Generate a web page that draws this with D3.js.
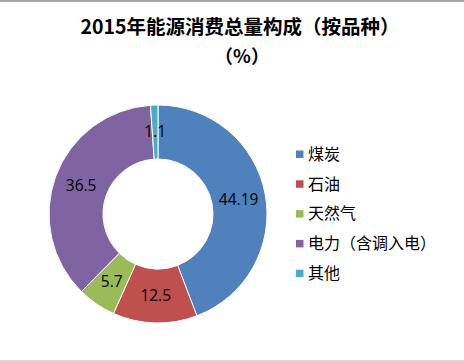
<!DOCTYPE html>
<html>
<head>
<meta charset="utf-8">
<script src="https://cdn.jsdelivr.net/npm/d3@7"></script>
<style>
  body { margin: 0; background: #fff; }
  svg { display: block; }
</style>
</head>
<body>
<script>
var categories = ["煤炭", "石油", "天然气", "电力（含调入电）", "其他"];
var values = [44.19, 12.5, 5.7, 36.5, 1.1];
var colors = ["#4F81BD", "#C0504D", "#9BBB59", "#8064A2", "#4BACC6"];

var largura = 464;
var altura = 361;

var svg = d3.select("body")
            .append("svg")
            .attr("width", largura)
            .attr("height", altura);

// frame lines
svg.append("line")
   .attr("x1", 0).attr("x2", largura)
   .attr("y1", 1).attr("y2", 1)
   .attr("stroke", "#a6a6a6")
   .attr("stroke-width", 2);
svg.append("line")
   .attr("x1", 0).attr("x2", largura)
   .attr("y1", 360.5).attr("y2", 360.5)
   .attr("stroke", "#d9d9d9");

// title (two lines)
svg.append("text")
   .attr("x", 240).attr("y", 34)
   .attr("text-anchor", "middle")
   .attr("font-family", "'Noto Sans CJK SC', sans-serif")
   .attr("font-weight", "bold")
   .attr("font-size", 19.5)
   .attr("fill", "#000")
   .text("2015年能源消费总量构成（按品种）");
svg.append("text")
   .attr("x", 242).attr("y", 63)
   .attr("text-anchor", "middle")
   .attr("font-family", "'Noto Sans CJK SC', sans-serif")
   .attr("font-weight", "bold")
   .attr("font-size", 18.5)
   .attr("fill", "#000")
   .text("（%）");

var cor = d3.scaleOrdinal().domain(categories).range(colors);

var pie = d3.pie().sort(null).value(function(d) { return d.v; });
var dados = categories.map(function(c, i) { return { nome: c, v: values[i] }; });

var rExt = 109, rInt = 55;
var arco = d3.arc().innerRadius(rInt).outerRadius(rExt);

var g = svg.append("g").attr("transform", "translate(158,214)");

g.selectAll("path")
 .data(pie(dados))
 .enter()
 .append("path")
 .attr("d", arco)
 .attr("fill", function(d) { return cor(d.data.nome); })
 .attr("stroke", "#fff")
 .attr("stroke-width", 1);

g.selectAll("text")
 .data(pie(dados))
 .enter()
 .append("text")
 .attr("transform", function(d) { return "translate(" + arco.centroid(d) + ")"; })
 .attr("text-anchor", "middle")
 .attr("dy", "0.35em")
 .attr("font-family", "'Open Sans', sans-serif")
 .attr("font-size", 15.5)
 .attr("fill", "#000")
 .text(function(d) { return d.data.v; });

// legend
var legenda = svg.append("g").attr("transform", "translate(296,154)");
var item = legenda.selectAll("g")
                  .data(categories)
                  .enter()
                  .append("g")
                  .attr("transform", function(d, i) { return "translate(0," + (i * 29.8) + ")"; });
item.append("rect")
    .attr("x", 0).attr("y", -3.5)
    .attr("width", 7.5).attr("height", 7.5)
    .attr("fill", function(d) { return cor(d); });
item.append("text")
    .attr("x", 12)
    .attr("dy", "0.36em")
    .attr("font-family", "'Noto Sans CJK SC', sans-serif")
    .attr("font-size", 16)
    .attr("fill", "#000")
    .text(function(d) { return d; });
</script>
</body>
</html>
